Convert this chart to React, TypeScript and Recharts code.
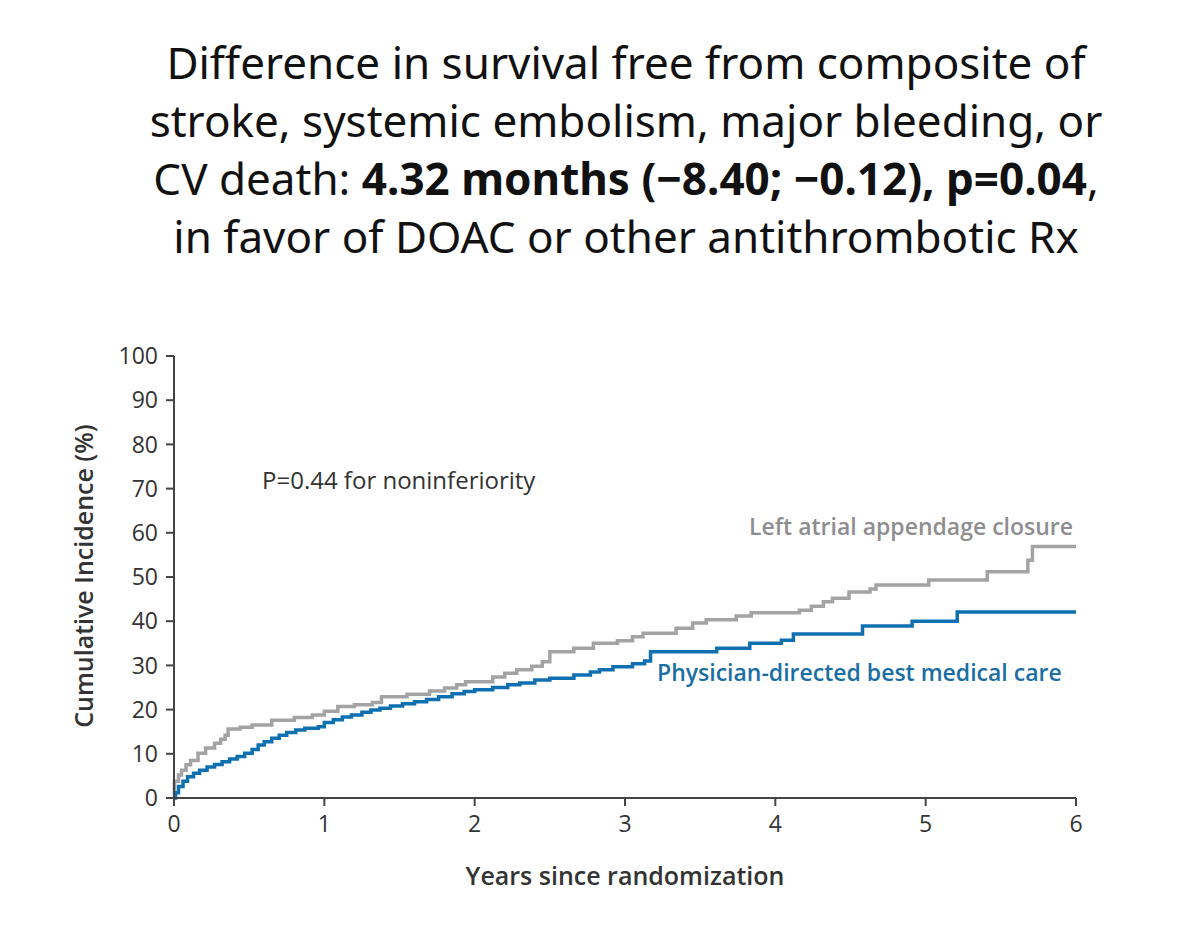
import React from 'react';
import { LineChart, Line, XAxis, YAxis } from 'recharts';

// Kaplan-Meier style step points (years, cumulative %)
const laacYears = [0, 0.003, 0.03, 0.05, 0.08, 0.11, 0.16, 0.21, 0.27, 0.31, 0.34, 0.36, 0.44, 0.52, 0.65, 0.8, 0.92, 1.0, 1.09, 1.2, 1.32, 1.38, 1.55, 1.7, 1.8, 1.88, 1.94, 2.12, 2.2, 2.28, 2.38, 2.45, 2.5, 2.66, 2.79, 2.95, 3.05, 3.12, 3.34, 3.45, 3.54, 3.74, 3.84, 4.16, 4.24, 4.32, 4.38, 4.49, 4.63, 4.67, 5.02, 5.41, 5.68, 5.71, 6];
const laacValues = [0, 3.8, 5.2, 6.3, 7.5, 8.5, 10.1, 11.3, 12.4, 13.3, 14.2, 15.6, 16.0, 16.5, 17.6, 18.2, 18.8, 19.6, 20.7, 21.1, 21.6, 22.9, 23.5, 24.2, 24.9, 25.6, 26.3, 27.4, 28.2, 29.0, 29.8, 30.8, 33.1, 33.9, 35.0, 35.6, 36.5, 37.3, 38.4, 39.6, 40.3, 41.2, 41.9, 42.5, 43.4, 44.4, 45.2, 46.6, 47.3, 48.2, 49.3, 51.2, 53.8, 56.9, 56.9];

const bmcYears = [0, 0.01, 0.03, 0.06, 0.09, 0.13, 0.17, 0.22, 0.27, 0.32, 0.37, 0.42, 0.47, 0.52, 0.56, 0.6, 0.65, 0.7, 0.75, 0.81, 0.87, 0.96, 1.0, 1.06, 1.12, 1.18, 1.25, 1.31, 1.37, 1.44, 1.52, 1.6, 1.68, 1.76, 1.85, 1.93, 2.0, 2.12, 2.22, 2.3, 2.4, 2.5, 2.66, 2.77, 2.83, 2.92, 3.05, 3.13, 3.17, 3.61, 3.83, 4.04, 4.12, 4.58, 4.91, 5.21, 6];
const bmcValues = [0, 1.2, 2.6, 3.8, 4.8, 5.6, 6.3, 7.0, 7.6, 8.2, 8.8, 9.4, 10.1, 11.0, 12.0, 12.7, 13.5, 14.2, 14.8, 15.4, 15.8, 16.1, 17.1, 17.7, 18.3, 18.8, 19.4, 19.9, 20.3, 20.8, 21.3, 21.8, 22.3, 22.9, 23.6, 24.1, 24.5, 25.0, 25.6, 26.0, 26.7, 27.1, 27.8, 28.5, 29.0, 29.7, 30.4, 31.0, 33.1, 33.9, 35.0, 35.7, 37.1, 38.9, 40.0, 42.1, 42.1];

const xTicks = [0, 1, 2, 3, 4, 5, 6];
const yTicks = [0, 10, 20, 30, 40, 50, 60, 70, 80, 90, 100];

const laacData = laacYears.map((t, i) => ({ t, v: laacValues[i] }));
const bmcData = bmcYears.map((t, i) => ({ t, v: bmcValues[i] }));

const GRAY = '#a3a3a6';
const BLUE = '#0f70b1';
const AXIS = '#444';
const chartFont = '"Open Sans", Lato, sans-serif';
const titleFont = '"Noto Sans", Roboto, sans-serif';

const titleLine: React.CSSProperties = {
    position: 'absolute',
    left: 0,
    width: 1252,
    textAlign: 'center',
    fontFamily: titleFont,
    fontSize: 44,
    color: '#111',
    whiteSpace: 'nowrap',
    lineHeight: '48px',
};

const App = () => {
    return (
        <div style={{ position: 'absolute', top: 0, left: 0, width: 1181, height: 925, background: '#fff', overflow: 'hidden' }}>
            {/* Title */}
            <div style={{ ...titleLine, top: 38 }}>Difference in survival free from composite of</div>
            <div style={{ ...titleLine, top: 96 }}>stroke, systemic embolism, major bleeding, or</div>
            <div style={{ ...titleLine, top: 154 }}>
                CV death: <b>4.32 months (−8.40; −0.12), p=0.04</b>,
            </div>
            <div style={{ ...titleLine, top: 212 }}>in favor of DOAC or other antithrombotic Rx</div>

            <div style={{ position: 'absolute', top: 0, left: 0 }}>
                <LineChart width={1181} height={925} margin={{ top: 356, right: 105, bottom: 87, left: 114 }}>
                    <XAxis
                        type="number"
                        dataKey="t"
                        domain={[0, 6]}
                        ticks={xTicks}
                        height={40}
                        allowDuplicatedCategory={false}
                        stroke={AXIS}
                        strokeWidth={2}
                        tickSize={8}
                        tickMargin={10}
                        tick={{ fill: '#333', fontSize: 23, fontFamily: chartFont }}
                    />
                    <YAxis
                        type="number"
                        domain={[0, 100]}
                        ticks={yTicks}
                        width={60}
                        stroke={AXIS}
                        strokeWidth={2}
                        tickSize={8}
                        tickMargin={8}
                        interval={0}
                        tick={{ fill: '#333', fontSize: 23, fontFamily: chartFont }}
                    />
                    <Line data={laacData} dataKey="v" type="stepAfter" stroke={GRAY} strokeWidth={3.5} dot={false} isAnimationActive={false} />
                    <Line data={bmcData} dataKey="v" type="stepAfter" stroke={BLUE} strokeWidth={3.5} dot={false} isAnimationActive={false} />
                </LineChart>
            </div>

            {/* Annotations */}
            <div style={{ position: 'absolute', left: 262, top: 463, fontFamily: chartFont, fontSize: 24, color: '#333' }}>
                P=0.44 for noninferiority
            </div>
            <div style={{ position: 'absolute', right: 1181 - 1073, top: 510, fontFamily: chartFont, fontSize: 23, fontWeight: 600, color: '#8e8e90' }}>
                Left atrial appendage closure
            </div>
            <div style={{ position: 'absolute', left: 657, top: 656, fontFamily: chartFont, fontSize: 23, fontWeight: 600, color: '#1a6ea3' }}>
                Physician-directed best medical care
            </div>
            <div style={{ position: 'absolute', left: 174, width: 902, top: 858, textAlign: 'center', fontFamily: chartFont, fontSize: 25, fontWeight: 600, color: '#333' }}>
                Years since randomization
            </div>
            <div
                style={{
                    position: 'absolute',
                    left: 83,
                    top: 576,
                    transform: 'translate(-50%, -50%) rotate(-90deg)',
                    whiteSpace: 'nowrap',
                    fontFamily: chartFont,
                    fontSize: 25,
                    fontWeight: 600,
                    color: '#333',
                }}
            >
                Cumulative Incidence (%)
            </div>
        </div>
    );
};

export default App;
